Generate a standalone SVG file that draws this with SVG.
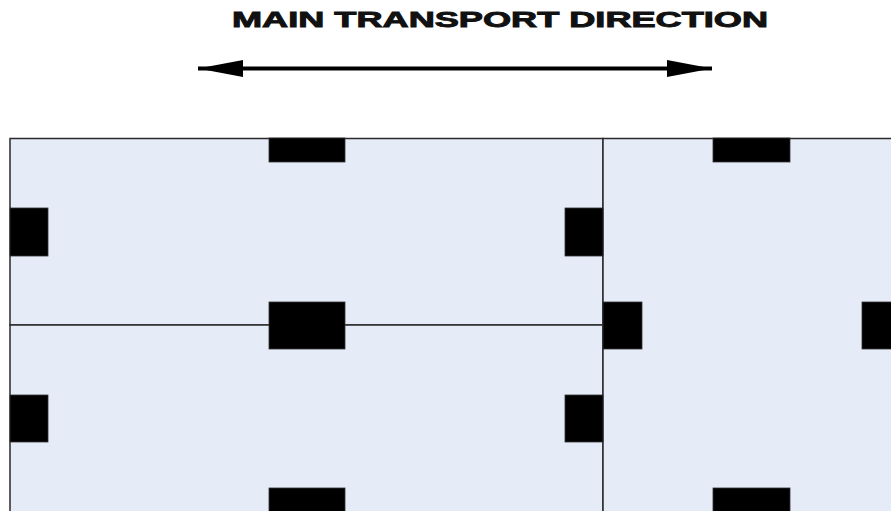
<svg xmlns="http://www.w3.org/2000/svg" width="891" height="511" viewBox="0 0 891 511">
  <style>
    .panel { fill: #e6ecf7; stroke: #2a2a2a; stroke-width: 1.5; }
    .blk { fill: #000000; stroke: #333333; stroke-width: 0.8; }
    .title { font-family: "Liberation Sans", Arial, sans-serif; font-weight: bold; font-size: 22px; fill: #111111; stroke: #111111; stroke-width: 0.9; }
    .arrow { stroke: #000000; stroke-width: 4; fill: none; }
  </style>
  <defs>
    <marker id="head" markerUnits="userSpaceOnUse" markerWidth="46" markerHeight="18" refX="45" refY="9" orient="auto-start-reverse">
      <path d="M0,0.5 L45,9 L0,17.5 Z" fill="#000000"/>
    </marker>
  </defs>
  <rect x="0" y="0" width="891" height="511" fill="#ffffff"/>

  <text class="title" x="232" y="27" textLength="536" lengthAdjust="spacingAndGlyphs">MAIN TRANSPORT DIRECTION</text>

  <g id="connectors">
    <line class="arrow" x1="198" y1="68.5" x2="712" y2="68.5" marker-start="url(#head)" marker-end="url(#head)"/>
  </g>

  <g id="panels">
    <rect id="panel-top-left" class="panel" x="10" y="138.5" width="593" height="186.5"/>
    <rect id="panel-bottom-left" class="panel" x="10" y="325" width="593" height="190"/>
    <rect id="panel-right" class="panel" x="603" y="138.5" width="292" height="376"/>
  </g>

  <g id="block-1"><rect class="blk" x="269" y="138" width="76" height="24"/></g>
  <g id="block-2"><rect class="blk" x="10" y="208" width="38" height="48"/></g>
  <g id="block-3"><rect class="blk" x="565" y="208" width="38" height="48"/></g>
  <g id="block-4"><rect class="blk" x="269" y="302" width="76" height="47"/></g>
  <g id="block-5"><rect class="blk" x="603" y="302" width="39" height="47"/></g>
  <g id="block-6"><rect class="blk" x="862" y="302" width="32" height="47"/></g>
  <g id="block-7"><rect class="blk" x="10" y="395" width="38" height="47"/></g>
  <g id="block-8"><rect class="blk" x="565" y="395" width="38" height="47"/></g>
  <g id="block-9"><rect class="blk" x="269" y="488" width="76" height="26"/></g>
  <g id="block-10"><rect class="blk" x="713" y="138" width="77" height="24"/></g>
  <g id="block-11"><rect class="blk" x="713" y="488" width="77" height="26"/></g>
</svg>
